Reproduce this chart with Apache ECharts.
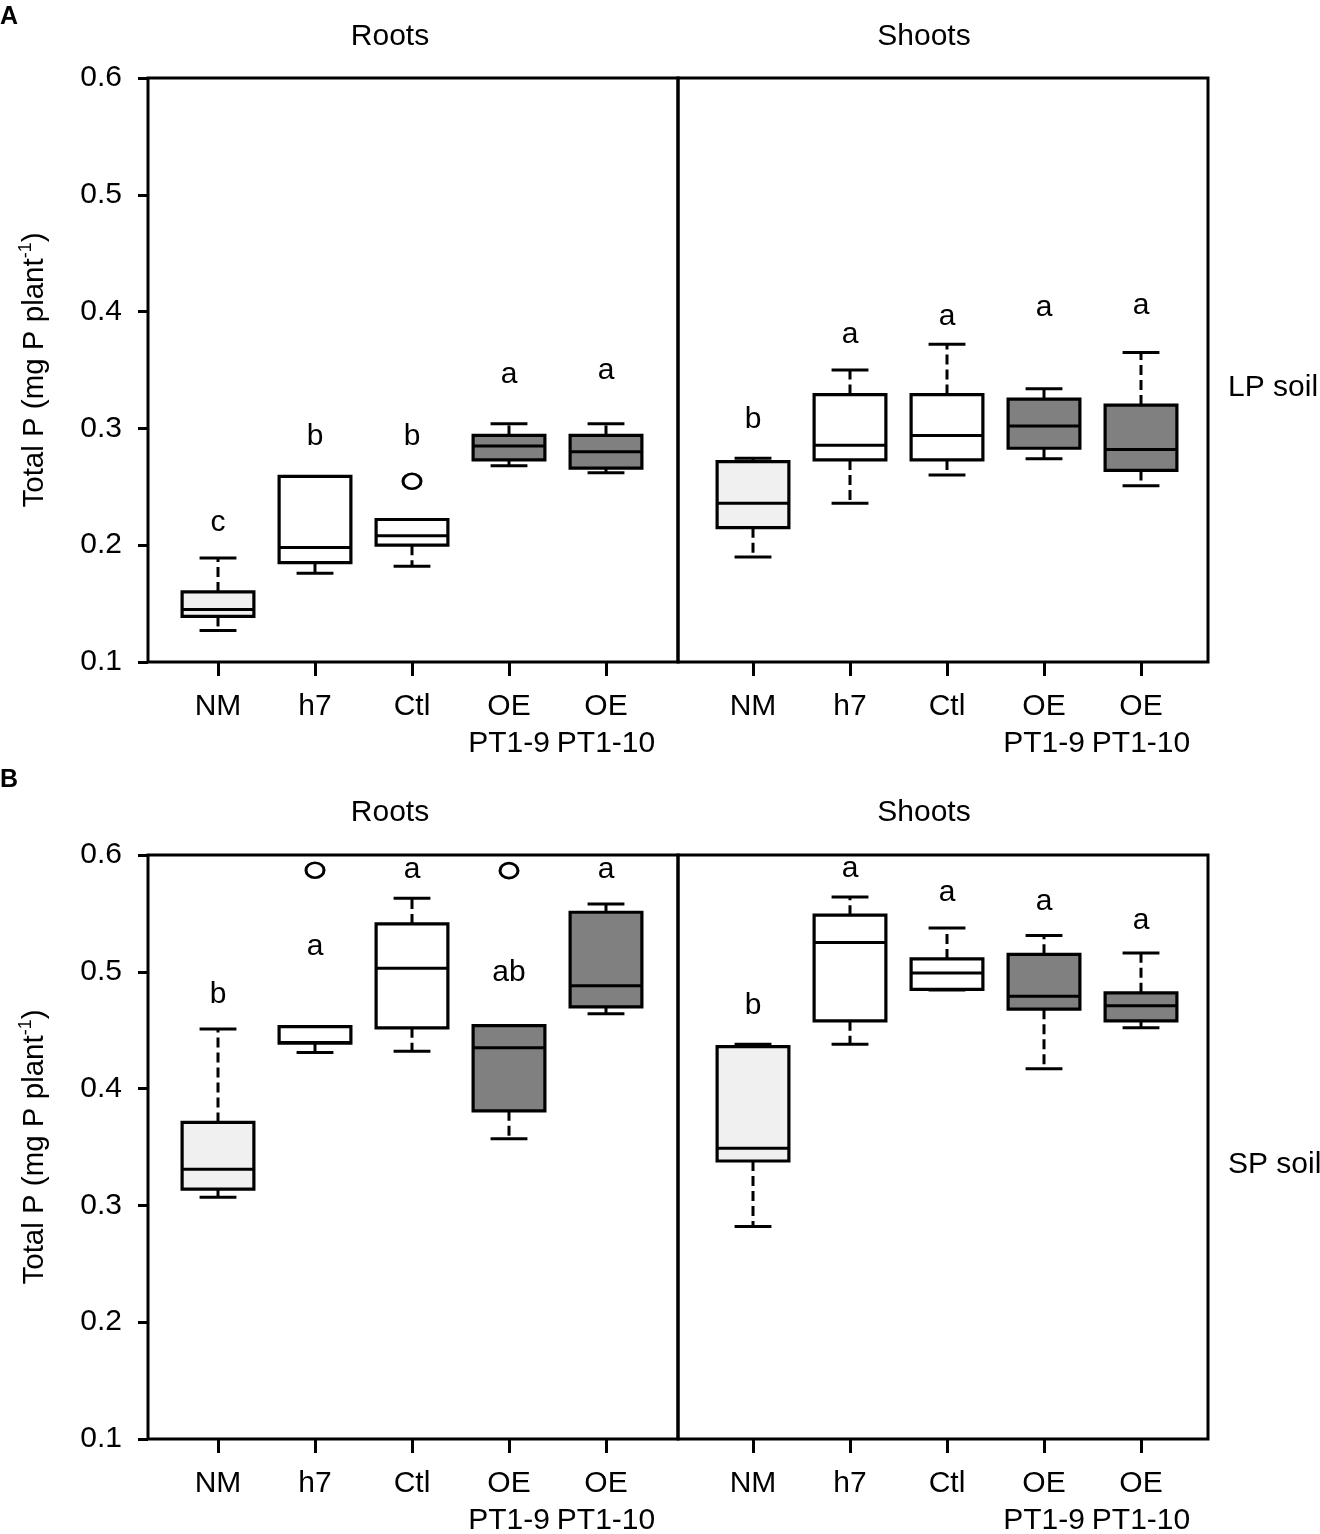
<!DOCTYPE html>
<html lang="en">
<head>
    <meta charset="UTF-8">
    <title>Total P boxplots</title>
    <script src="https://cdn.jsdelivr.net/npm/echarts@6.0.0/dist/echarts.min.js"></script>
    <style>
        body { margin: 0; background: #fff; }
        #chart { width: 1320px; height: 1534px; }
    </style>
</head>
<body>
    <div id="chart"></div>
    <script>
        // categories on every x axis
        const categories = ['NM', 'h7', 'Ctl', 'OE\nPT1-9', 'OE\nPT1-10'];
        const yMin = 0.1, yMax = 0.6, yStep = 0.1;

        // boxes: [min, q1, median, q3, max] per category
        const lpRoots = [
            [0.127, 0.139, 0.145, 0.160, 0.189],
            [0.176, 0.185, 0.198, 0.259, 0.259],
            [0.182, 0.200, 0.208, 0.222, 0.222],
            [0.268, 0.273, 0.285, 0.294, 0.304],
            [0.262, 0.266, 0.280, 0.294, 0.304]
        ];
        const lpShoots = [
            [0.190, 0.215, 0.236, 0.2715, 0.2745],
            [0.236, 0.273, 0.2855, 0.329, 0.350],
            [0.260, 0.273, 0.294, 0.329, 0.372],
            [0.274, 0.283, 0.302, 0.325, 0.334],
            [0.251, 0.264, 0.282, 0.320, 0.365]
        ];
        const spRoots = [
            [0.307, 0.314, 0.331, 0.371, 0.451],
            [0.431, 0.439, 0.4395, 0.453, 0.453],
            [0.432, 0.452, 0.503, 0.541, 0.563],
            [0.357, 0.381, 0.435, 0.454, 0.454],
            [0.464, 0.470, 0.488, 0.551, 0.558]
        ];
        const spShoots = [
            [0.282, 0.338, 0.349, 0.436, 0.438],
            [0.438, 0.458, 0.525, 0.5485, 0.564],
            [0.4845, 0.485, 0.499, 0.511, 0.5375],
            [0.417, 0.468, 0.479, 0.515, 0.531],
            [0.452, 0.458, 0.471, 0.482, 0.516]
        ];

        // outliers: [category index, value]
        const lpRootsOut = [[2, 0.2547]];
        const lpShootsOut = [];
        const spRootsOut = [[1, 0.587], [3, 0.5866]];
        const spShootsOut = [];

        // significance letters and the value they sit at
        const lpRootsLetters = ['c', 'b', 'b', 'a', 'a'];
        const lpRootsLetterY = [0.219, 0.293, 0.293, 0.346, 0.349];
        const lpShootsLetters = ['b', 'a', 'a', 'a', 'a'];
        const lpShootsLetterY = [0.307, 0.380, 0.396, 0.403, 0.405];
        const spRootsLetters = ['b', 'a', 'a', 'ab', 'a'];
        const spRootsLetterY = [0.480, 0.5215, 0.587, 0.499, 0.587];
        const spShootsLetters = ['b', 'a', 'a', 'a', 'a'];
        const spShootsLetterY = [0.471, 0.588, 0.5675, 0.560, 0.544];

        const font = '"Liberation Sans", Arial, sans-serif';
        const fills = ['#f0f0f0', '#ffffff', '#ffffff', '#808080', '#808080'];

        const chart = echarts.init(document.getElementById('chart'));

        // 4 frame grids (border + y axis), 4 data grids (category axis)
        const frames = [
            { left: 148, top: 78 }, { left: 678, top: 78 },
            { left: 148, top: 855 }, { left: 678, top: 855 }
        ];
        const panels = [
            { left: 169.5, top: 78, boxes: lpRoots, out: lpRootsOut, letters: lpRootsLetters, letterY: lpRootsLetterY },
            { left: 704.5, top: 78, boxes: lpShoots, out: lpShootsOut, letters: lpShootsLetters, letterY: lpShootsLetterY },
            { left: 169.5, top: 855, boxes: spRoots, out: spRootsOut, letters: spRootsLetters, letterY: spRootsLetterY },
            { left: 704.5, top: 855, boxes: spShoots, out: spShootsOut, letters: spShootsLetters, letterY: spShootsLetterY }
        ];

        const grid = [], xAxis = [], yAxis = [], series = [];

        frames.forEach((f, i) => {
            grid.push({
                left: f.left, top: f.top, width: 530, height: 584,
                show: true, borderColor: '#000', borderWidth: 3,
                backgroundColor: 'transparent', outerBoundsMode: 'none'
            });
            xAxis.push({ gridIndex: i, type: 'value', min: 0, max: 1, show: false });
            const isLeft = i % 2 === 0;
            yAxis.push({
                gridIndex: i, type: 'value', min: yMin, max: yMax, interval: yStep,
                show: isLeft,
                name: '{t|Total P (mg P plant}{s|-1}{t|)}',
                nameLocation: 'middle', nameGap: 95, nameRotate: 90,
                nameTextStyle: {
                    rich: {
                        t: { fontSize: 29.5, fontFamily: font, color: '#000', lineHeight: 36 },
                        s: { fontSize: 18, fontFamily: font, color: '#000', lineHeight: 21, verticalAlign: 'top' }
                    }
                },
                axisLine: { show: false },
                axisTick: { show: true, inside: false, length: 10, lineStyle: { color: '#000', width: 3 } },
                axisLabel: {
                    color: '#000', fontSize: 30, fontFamily: font, margin: 26,
                    formatter: v => v.toFixed(1)
                },
                splitLine: { show: false }
            });
        });

        panels.forEach((p, k) => {
            const gi = 4 + k;
            grid.push({ left: p.left, top: p.top, width: 485, height: 584, outerBoundsMode: 'none' });
            xAxis.push({
                gridIndex: gi, type: 'category', data: categories, boundaryGap: true,
                axisLine: { show: false },
                axisTick: { show: true, inside: false, alignWithLabel: true, length: 14,
                    lineStyle: { color: '#000', width: 3 } },
                axisLabel: { color: '#000', fontSize: 30, fontFamily: font, margin: 26, lineHeight: 37, interval: 0 },
                splitLine: { show: false }
            });
            yAxis.push({ gridIndex: gi, type: 'value', min: yMin, max: yMax, show: false, splitLine: { show: false } });

            // boxes
            series.push({
                type: 'custom', xAxisIndex: gi, yAxisIndex: gi,
                data: p.boxes.map((b, i) => [i].concat(b)),
                encode: { x: 0, y: [1, 2, 3, 4, 5] },
                renderItem: function (params, api) {
                    const i = api.value(0);
                    const pt = d => api.coord([i, api.value(d)]);
                    const pMin = pt(1), pQ1 = pt(2), pMed = pt(3), pQ3 = pt(4), pMax = pt(5);
                    const band = api.size([1, 0])[0];
                    const bw = band * 0.74, cw = band * 0.38, cx = pMin[0];
                    const ink = { stroke: '#000', lineWidth: 3 };
                    const kids = [];
                    if (api.value(5) > api.value(4)) {
                        kids.push({ type: 'line', shape: { x1: cx, y1: pQ3[1], x2: cx, y2: pMax[1] },
                            style: Object.assign({ lineDash: [10, 5] }, ink) });
                        kids.push({ type: 'line', shape: { x1: cx - cw / 2, y1: pMax[1], x2: cx + cw / 2, y2: pMax[1] }, style: ink });
                    }
                    if (api.value(1) < api.value(2)) {
                        kids.push({ type: 'line', shape: { x1: cx, y1: pQ1[1], x2: cx, y2: pMin[1] },
                            style: Object.assign({ lineDash: [10, 5] }, ink) });
                        kids.push({ type: 'line', shape: { x1: cx - cw / 2, y1: pMin[1], x2: cx + cw / 2, y2: pMin[1] }, style: ink });
                    }
                    kids.push({ type: 'rect',
                        shape: { x: cx - bw / 2, y: pQ3[1], width: bw, height: pQ1[1] - pQ3[1] },
                        style: { fill: fills[i], stroke: '#000', lineWidth: 3.2 } });
                    kids.push({ type: 'line', shape: { x1: cx - bw / 2, y1: pMed[1], x2: cx + bw / 2, y2: pMed[1] },
                        style: { stroke: '#000', lineWidth: 3 } });
                    return { type: 'group', children: kids };
                },
                silent: true
            });

            // outliers
            series.push({
                type: 'scatter', xAxisIndex: gi, yAxisIndex: gi,
                data: p.out, symbol: 'circle', symbolSize: [18, 15],
                itemStyle: { color: '#fff', borderColor: '#000', borderWidth: 2.8, opacity: 1 },
                silent: true
            });

            // letters
            series.push({
                type: 'custom', xAxisIndex: gi, yAxisIndex: gi,
                data: p.letterY.map((v, i) => [i, v]),
                encode: { x: 0, y: 1 },
                renderItem: function (params, api) {
                    const c = api.coord([api.value(0), api.value(1)]);
                    return { type: 'text', x: c[0], y: c[1],
                        style: { text: p.letters[params.dataIndex], fill: '#000',
                            font: '30px ' + font, align: 'center', verticalAlign: 'middle' } };
                },
                silent: true
            });
        });

        const label = (text, x, y, extra) => Object.assign({
            type: 'text', x: x, y: y,
            style: { text: text, fill: '#000', font: '30px ' + font, align: 'center', verticalAlign: 'middle' }
        }, extra || {});

        chart.setOption({
            animation: false,
            backgroundColor: '#fff',
            grid: grid,
            xAxis: xAxis,
            yAxis: yAxis,
            series: series,
            graphic: [
                { type: 'text', x: 0, y: 17, style: { text: 'A', fill: '#000', font: 'bold 25px ' + font, align: 'left', verticalAlign: 'middle' } },
                { type: 'text', x: 0, y: 780, style: { text: 'B', fill: '#000', font: 'bold 25px ' + font, align: 'left', verticalAlign: 'middle' } },
                label('Roots', 390, 37),
                label('Shoots', 924, 37),
                label('Roots', 390, 813),
                label('Shoots', 924, 813),
                { type: 'text', x: 1228, y: 388, style: { text: 'LP soil', fill: '#000', font: '30px ' + font, align: 'left', verticalAlign: 'middle' } },
                { type: 'text', x: 1228, y: 1165, style: { text: 'SP soil', fill: '#000', font: '30px ' + font, align: 'left', verticalAlign: 'middle' } }
            ]
        });

        window.onresize = function () { chart.resize(); };
    </script>
</body>
</html>
